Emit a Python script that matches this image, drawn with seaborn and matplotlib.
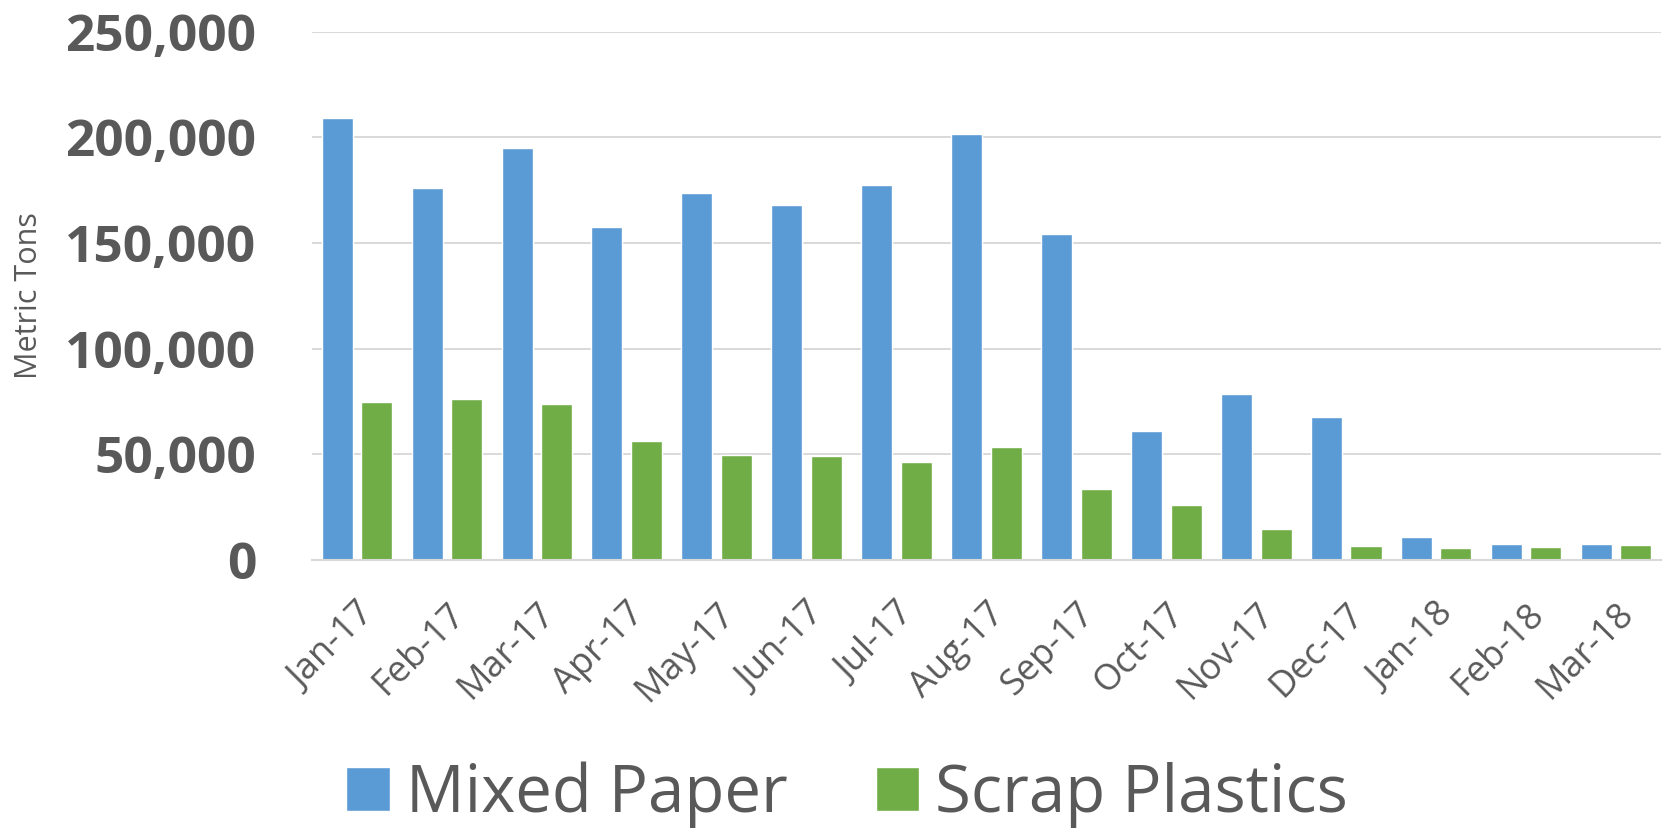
import numpy as np
import pandas as pd
import seaborn as sns
import matplotlib.pyplot as plt

# Số liệu (tấn)
months = ['Jan-17', 'Feb-17', 'Mar-17', 'Apr-17', 'May-17', 'Jun-17', 'Jul-17', 'Aug-17',
          'Sep-17', 'Oct-17', 'Nov-17', 'Dec-17', 'Jan-18', 'Feb-18', 'Mar-18']
mixed_paper = [209000, 176000, 195000, 157500, 173500, 168000, 177500, 201500,
               154500, 61000, 78500, 67500, 11000, 7500, 7500]
scrap_plastics = [75000, 76000, 74000, 56500, 49500, 49000, 46500, 53500,
                  33500, 26000, 14500, 6500, 5500, 6000, 7000]
series = ['Mixed Paper', 'Scrap Plastics']
colors = ['#5B9BD5', '#70AD47']

df = pd.DataFrame({
    'month': months * 2,
    'tons': mixed_paper + scrap_plastics,
    'material': [series[0]] * len(months) + [series[1]] * len(months),
})

sns.set_style('white')
plt.rcParams['font.family'] = ['Open Sans', 'DejaVu Sans']
text_color = '#595959'
grid_color = '#D9D9D9'

fig = plt.figure(figsize=(16.71, 8.30), dpi=100)
ax = fig.add_axes([0.1867, 0.3253, 0.8073, 0.6365])

sns.barplot(data=df, x='month', y='tons', hue='material', hue_order=series,
            palette=colors, width=0.88, saturation=1, ax=ax)

# thu hẹp cột để có khoảng trống giữa hai cột
bar_w = 0.345
for p in ax.patches:
    c = p.get_x() + p.get_width() / 2
    p.set_width(bar_w)
    p.set_x(c - bar_w / 2)

handles, labels = ax.get_legend_handles_labels()
ax.get_legend().remove()

ax.set_ylim(0, 250000)
ax.set_xlim(-0.5, len(months) - 0.5)
ax.set_yticks(np.arange(0, 250001, 50000))
ax.set_yticklabels([f'{v:,}' for v in range(0, 250001, 50000)],
                   fontsize=37, fontweight='bold', color=text_color)
ax.set_xticks(range(len(months)))
ax.set_xticklabels(months, rotation=45, ha='right', va='top', rotation_mode='anchor',
                   fontsize=26, color=text_color)
ax.set_xticks(np.arange(-0.5, len(months), 1), minor=True)
ax.tick_params(axis='y', length=0, pad=40)
ax.tick_params(axis='x', which='major', length=0, pad=26)
ax.tick_params(axis='x', which='minor', length=10, width=1.5, color=grid_color)

ax.grid(axis='y', color=grid_color, linewidth=1.4)
ax.set_axisbelow(True)
for s in ['top', 'right', 'left']:
    ax.spines[s].set_visible(False)
ax.spines['bottom'].set_color(grid_color)
ax.spines['bottom'].set_linewidth(1.5)

ax.set_xlabel('')
ax.set_ylabel('Metric Tons', fontsize=22, color=text_color)
ax.yaxis.set_label_coords(-0.199, 0.5)

fig.legend(handles, labels, loc='center', bbox_to_anchor=(0.507, 0.042), ncol=2,
           frameon=False, fontsize=47, labelcolor=text_color,
           handlelength=0.66, handleheight=0.66, handletextpad=0.25, columnspacing=1.35)

plt.savefig('out.png', dpi=100)
